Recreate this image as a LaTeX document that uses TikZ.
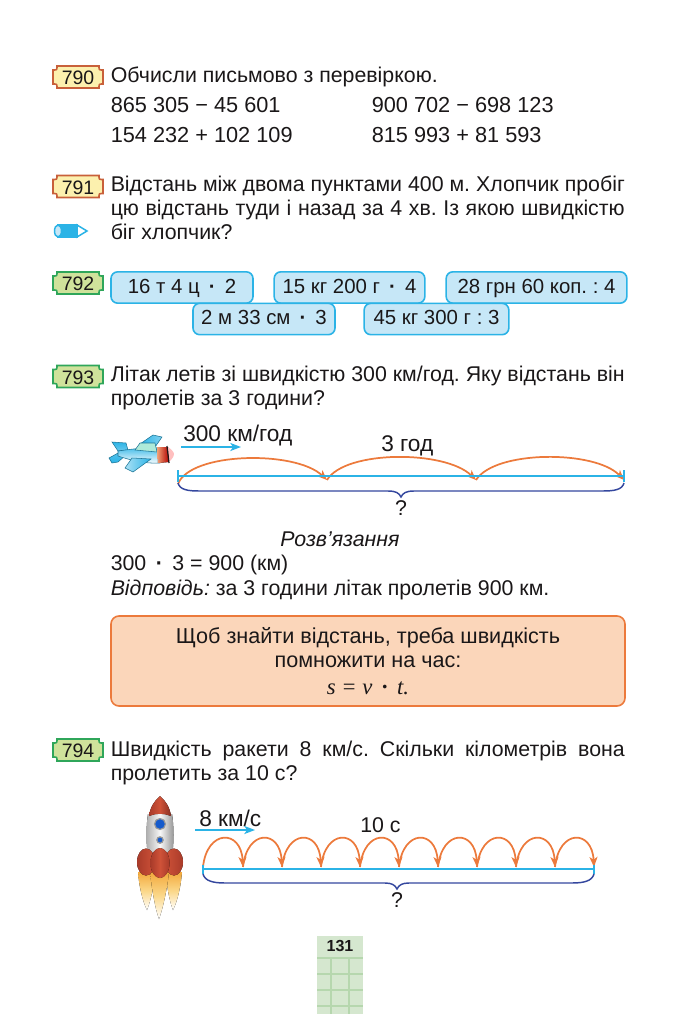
\documentclass[tikz,border=0pt]{standalone}
\usepackage{fontspec}
\setmainfont{Liberation Sans}
\newfontfamily\mathserif{Liberation Serif}
\usetikzlibrary{arrows.meta}
\definecolor{inkblack}{HTML}{1A1718}
\definecolor{badgeyellow}{HTML}{FCF0AE}
\definecolor{badgered}{HTML}{C8603A}
\definecolor{badgelime}{HTML}{CFE29B}
\definecolor{badgegreen}{HTML}{2FA65A}
\definecolor{boxblue}{HTML}{C6E7F7}
\definecolor{edgeblue}{HTML}{2BB3E6}
\definecolor{rulepeach}{HTML}{FBD6BA}
\definecolor{edgeorange}{HTML}{EC7A3C}
\definecolor{bracenavy}{HTML}{34479E}
\definecolor{pagegreen}{HTML}{D5E7CF}
\definecolor{gridgreen}{HTML}{B6D7AE}
\definecolor{rocketred}{HTML}{A93B2A}
\definecolor{rocketglow}{HTML}{CF5238}
\definecolor{flametop}{HTML}{F3A93C}
\definecolor{flamemid}{HTML}{FBD88A}
\newcommand{\opdot}{\,\textbf{·}\,}
\newcommand{\fullline}[1]{\hbox to 385.5pt{#1}}
% notched frame behind a number label
\newcommand{\badgeframe}[2]{%
  \draw[#1,line width=1.2pt,shift={(#2)}] (-21,-11) -- (21,-11) .. controls (21,-7) .. (25,-7) -- (25,7)
    .. controls (21,7) .. (21,11) -- (-21,11) .. controls (-21,7) .. (-25,7) -- (-25,-7) .. controls (-21,-7) .. cycle;}
\tikzset{
  txt/.style={anchor=base west,inner sep=0pt,text=inkblack,font=\fontsize{16}{18}\selectfont},
  numtxt/.style={txt,font=\fontsize{16.3}{18}\selectfont},
  lbl/.style={txt,font=\fontsize{17}{18}\selectfont},
  txtmid/.style={anchor=base,inner sep=0pt,text=inkblack,font=\fontsize{16}{18}\selectfont},
  badgetxt/.style={anchor=base,inner sep=0pt,text=inkblack,font=\fontsize{14.6}{15}\selectfont},
  redbadge/.style={draw=badgered,fill=badgeyellow},
  greenbadge/.style={draw=badgegreen,fill=badgelime},
  exprbox/.style={draw=edgeblue,fill=boxblue,line width=1.2pt,rounded corners=5pt,inner sep=0pt,
    minimum height=23.5pt,text height=11pt,text depth=2.2pt,text=inkblack,font=\fontsize{15.3}{18}\selectfont},
  hop/.style={draw=edgeorange,line width=1.3pt,-{Stealth[length=7.5pt,width=6pt,inset=2pt]}},
  speed/.style={draw=edgeblue,line width=1.3pt,-{Stealth[length=8pt,width=6pt,inset=2pt]}},
  axisline/.style={draw=edgeblue,line width=2pt},
  bracket/.style={draw=bracenavy,line width=1.1pt},
  planepart/.style={draw=black!35!edgeblue,line width=0.4pt},
  flame/.style={top color=flametop,bottom color=white,middle color=flamemid}
}
\begin{document}
\frenchspacing
\begin{tikzpicture}[x=0.75pt,y=-0.75pt]
  \useasboundingbox (0,0) rectangle (695,1014);
  % 790
  \badgeframe{redbadge}{78,77}
  \node[badgetxt] (b790) at (78,84) {790};
  \node[txt] (t790) at (110.5,82) {Обчисли письмово з перевіркою.};
  \node[numtxt] (e1) at (110.5,112) {865 305 − 45 601};
  \node[numtxt] (e2) at (371.5,112) {900 702 − 698 123};
  \node[numtxt] (e3) at (110.5,142) {154 232 + 102 109};
  \node[numtxt] (e4) at (371.5,142) {815 993 + 81 593};
  % 791
  \badgeframe{redbadge}{78,186.5}
  \node[badgetxt] (b791) at (78,194) {791};
  \node[txt] (t791a) at (110.5,191) {\fullline{Відстань між двома пунктами 400 м. Хлопчик пробіг}};
  \node[txt] (t791b) at (110.5,215) {\fullline{цю відстань туди і назад за 4 хв. Із якою швидкістю}};
  \node[txt] (t791c) at (110.5,239) {біг хлопчик?};
  \draw[draw=edgeblue,fill=white,line width=1.1pt] (77,225) -- (87,231) -- (77,237) -- cycle;
  \draw[draw=edgeblue,fill=edgeblue,line width=1.1pt] (58,225) -- (77,225) -- (77,237) -- (58,237) -- cycle;
  \draw[draw=edgeblue,fill=boxblue,line width=1.1pt] (58,231) ellipse (3.5 and 6);
  % 792
  \badgeframe{greenbadge}{78,283}
  \node[badgetxt] (b792) at (78,290) {792};
  \node[exprbox,minimum width=106.5pt] (m1) at (182,287.5) {16 т 4 ц \opdot\ 2};
  \node[exprbox,minimum width=113pt] (m2) at (349.5,287.5) {15 кг 200 г \opdot\ 4};
  \node[exprbox,minimum width=135.5pt] (m3) at (536.5,287.5) {28 грн 60 коп. : 4};
  \node[exprbox,minimum width=106.5pt] (m4) at (264,319) {2 м 33 см \opdot\ 3};
  \node[exprbox,minimum width=108.5pt] (m5) at (436.5,319) {45 кг 300 г : 3};
  % 793
  \badgeframe{greenbadge}{78,376.5}
  \node[badgetxt] (b793) at (78,384) {793};
  \node[txt] (t793a) at (110.5,381) {\fullline{Літак летів зі швидкістю 300 км/год. Яку відстань він}};
  \node[txt] (t793b) at (110.5,405) {пролетів за 3 години?};
  % plane
  \draw[planepart,top color=edgeblue,bottom color=edgeblue!70] (112,442) -- (126,443) -- (128,450) -- (118,451) -- cycle;
  \draw[planepart,top color=edgeblue!80,bottom color=edgeblue] (109,458) -- (120,452) -- (126,455) -- (118,462) -- (112,463) -- cycle;
  \draw[planepart,top color=edgeblue!90,bottom color=white] (118,451) .. controls (132,449) and (148,447) .. (160,448) -- (160,463) .. controls (145,464) and (130,460) .. (118,456) -- cycle;
  \draw[planepart,left color=edgeblue,right color=edgeblue!60] (140,444) -- (153,435) -- (162,437) -- (153,450) -- cycle;
  \draw[planepart,fill=green!12!boxblue] (135,450) -- (140,443) -- (155,443) -- (157,452) -- cycle;
  \draw[planepart,left color=edgeblue!40,right color=edgeblue] (132,458) -- (125,468) -- (133,472) -- (151,459) -- cycle;
  \fill[left color=edgeorange!70,right color=red!70!black] (157,447) -- (168,447) -- (169,462) -- (158,463) -- cycle;
  \fill[fill=pink] (168,447) .. controls (171,449) and (174,452) .. (174,454) .. controls (174,457) and (171,460) .. (169,462) -- cycle;
  \draw[draw=inkblack,line width=0.9pt] (167,446) -- (169,463);
  \node[lbl] (v793) at (183,441) {300 км/год};
  \coordinate (vs793) at (181,447);
  \coordinate (ve793) at (241,447);
  \draw[speed] (vs793) -- (ve793);
  \node[lbl] (h793) at (381,451) {3 год};
  \coordinate (p0) at (178,476);
  \coordinate (p1) at (327,476);
  \coordinate (p2) at (476,476);
  \coordinate (p3) at (624,476);
  \draw[hop] ([yshift=-6]p0) .. controls (190,452) and (295,450) .. ([yshift=-3]p1);
  \draw[hop] ([yshift=-3]p1) .. controls (345,450) and (445,450) .. ([yshift=-3]p2);
  \draw[hop] ([yshift=-3]p2) .. controls (495,450) and (595,450) .. ([yshift=-3]p3);
  \draw[axisline] (p0) -- (p3);
  \draw[axisline] (178,470) -- (178,482);
  \draw[axisline] (624,470) -- (624,482);
  \draw[bracket] (178,483) .. controls (180,490) and (188,491) .. (200,491) -- (388,491) .. controls (396,491) and (399,493) .. (401,497) .. controls (403,493) and (406,491) .. (414,491) -- (602,491) .. controls (614,491) and (622,490) .. (624,483);
  \node[txtmid] (q793) at (401,515) {?};
  \node[txtmid] (sol) at (340,546) {\itshape Розв’язання};
  \node[txt] (calc) at (110.5,570) {300 \opdot\ 3 = 900 (км)};
  \node[txt] (ans) at (110.5,595) {\textit{Відповідь:} за 3 години літак пролетів 900 км.};
  % rule box
  \node[draw=edgeorange,fill=rulepeach,line width=1.2pt,rounded corners=6pt,minimum width=385.5pt,minimum height=67.5pt,inner sep=0pt] (rule) at (368,661) {};
  \node[txtmid,font=\fontsize{16.2}{18}\selectfont] (r1) at (368,643) {Щоб знайти відстань, треба швидкість};
  \node[txtmid,font=\fontsize{16.2}{18}\selectfont] (r2) at (368,667) {помножити на час:};
  \node[txtmid,font=\fontsize{17}{18}\selectfont] (r3) at (368,694) {\mathserif\itshape s = v \opdot\ t.};
  % 794
  \badgeframe{greenbadge}{78,750}
  \node[badgetxt] (b794) at (78,757.5) {794};
  \node[txt] (t794a) at (110.5,756) {\fullline{Швидкість ракети 8 км/с. Скільки кілометрів вона}};
  \node[txt] (t794b) at (110.5,780) {пролетить за 10 с?};
  % rocket
  \fill[flame] (138,872) .. controls (139,885) and (142,900) .. (147,910) .. controls (151,900) and (154,885) .. (155,872) -- cycle;
  \fill[flame] (165,872) .. controls (167,885) and (169,900) .. (173,910) .. controls (178,900) and (181,885) .. (182,872) -- cycle;
  \fill[flame] (150,872) .. controls (152,890) and (155,908) .. (159,919) .. controls (163,908) and (167,890) .. (169,872) -- cycle;
  \fill[left color=black!32,right color=black!42,middle color=black!3] (148,814) .. controls (146,825) and (146,845) .. (148,855) -- (172,855) .. controls (174,845) and (174,825) .. (172,814) -- cycle;
  \fill[left color=rocketred,right color=rocketred!80!black,middle color=rocketglow] (160,796) .. controls (154,801) and (150,808) .. (149,816) .. controls (156,813) and (164,813) .. (171,816) .. controls (170,808) and (166,801) .. (160,796) -- cycle;
  \draw[draw=black!40,fill=blue!40!edgeblue!85!black,line width=0.9pt] (160,824) circle (5.5);
  \draw[draw=black!40,fill=blue!40!edgeblue!85!black,line width=0.9pt] (160,840) circle (3.2);
  \fill[left color=rocketred,right color=rocketglow] (146,862) ellipse (9 and 13.5);
  \fill[left color=rocketglow,right color=rocketred] (174,862) ellipse (9 and 13.5);
  \fill[left color=rocketred,right color=rocketred,middle color=rocketglow] (160,863) ellipse (9.5 and 15);
  \node[lbl] (v794) at (199,826) {8 км/с};
  \coordinate (vs794) at (195,830);
  \coordinate (ve794) at (255,830);
  \draw[speed] (vs794) -- (ve794);
  \node[txt] (h794) at (360,832) {10 с};
  \coordinate (q0) at (203,867);
  \coordinate (q1) at (243,867);
  \coordinate (q2) at (282,867);
  \coordinate (q3) at (321,867);
  \coordinate (q4) at (360,867);
  \coordinate (q5) at (399,867);
  \coordinate (q6) at (438,867);
  \coordinate (q7) at (477,867);
  \coordinate (q8) at (516,867);
  \coordinate (q9) at (555,867);
  \coordinate (q10) at (594,867);
  \draw[hop] (q0) .. controls (207,829) and (241,829) .. (q1);
  \draw[hop] (q1) .. controls (247,829) and (280,829) .. (q2);
  \draw[hop] (q2) .. controls (286,829) and (319,829) .. (q3);
  \draw[hop] (q3) .. controls (325,829) and (358,829) .. (q4);
  \draw[hop] (q4) .. controls (364,829) and (397,829) .. (q5);
  \draw[hop] (q5) .. controls (403,829) and (436,829) .. (q6);
  \draw[hop] (q6) .. controls (442,829) and (475,829) .. (q7);
  \draw[hop] (q7) .. controls (481,829) and (514,829) .. (q8);
  \draw[hop] (q8) .. controls (520,829) and (553,829) .. (q9);
  \draw[hop] (q9) .. controls (559,829) and (592,829) .. (q10);
  \draw[axisline] (203,869) -- (594,869);
  \draw[axisline] (203,865) -- (203,874);
  \draw[axisline] (594,865) -- (594,874);
  \draw[bracket] (203,874) .. controls (205,881) and (213,883) .. (225,883) -- (385,883) .. controls (392,883) and (395,885) .. (397,889) .. controls (399,885) and (402,883) .. (409,883) -- (572,883) .. controls (584,883) and (592,881) .. (594,874);
  \node[txtmid] (q794) at (397,907) {?};
  % page number
  \fill[pagegreen] (317,936) rectangle (363,1014);
  \draw[gridgreen,line width=0.8pt] (331,958) -- (331,1014);
  \draw[gridgreen,line width=0.8pt] (349,958) -- (349,1014);
  \draw[gridgreen,line width=0.8pt] (317,958) -- (363,958);
  \draw[gridgreen,line width=0.8pt] (317,974) -- (363,974);
  \draw[gridgreen,line width=0.8pt] (317,990) -- (363,990);
  \draw[gridgreen,line width=0.8pt] (317,1006) -- (363,1006);
  \node[anchor=base,inner sep=0pt,text=inkblack,font=\fontsize{12}{12}\selectfont\bfseries] (page) at (340,951) {131};
\end{tikzpicture}
\end{document}
